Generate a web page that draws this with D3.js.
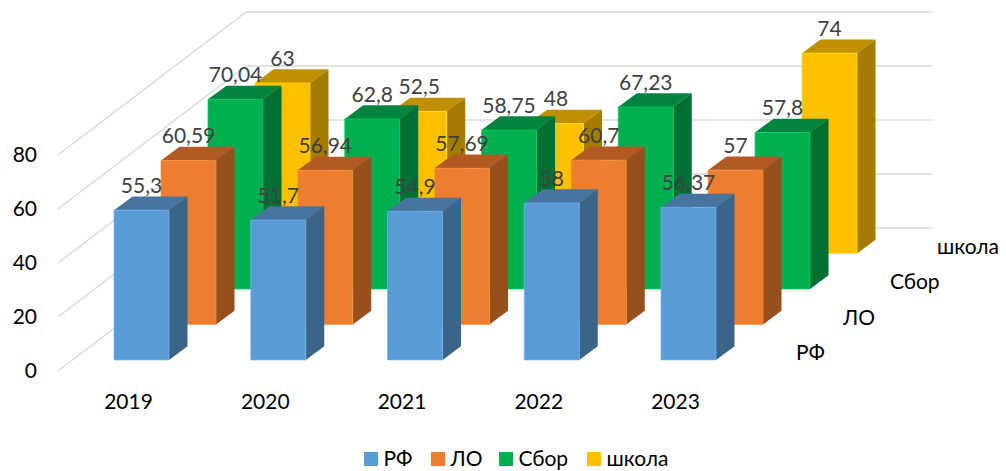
<!DOCTYPE html>
<html><head><meta charset="utf-8">
<script src="https://cdn.jsdelivr.net/npm/d3@7"></script>
<style>html,body{margin:0;padding:0;background:#fff}svg{display:block}text{font-family:Lato,"Open Sans",sans-serif}</style>
</head><body><svg id="c" width="1006" height="471"></svg>
<script>
const years = ["2019","2020","2021","2022","2023"];
const seriesNames = ["РФ","ЛО","Сбор","школа"];
const rf = [55.3,51.7,54.9,58,56.37];
const lo = [60.59,56.94,57.69,60.7,57];
const sbor = [70.04,62.8,58.75,67.23,57.8];
const shkola = [63,52.5,48,null,74];
const yTicks = [0,20,40,60,80];
const faceColors = ["#5B9BD5","#ED7D31","#00B050","#FFC000"];
const topColors = ["#4675A0","#B25A24","#008440","#C09000"];
const sideColors = ["#3A6488","#964F1D","#006F33","#A67C00"];

const svg = d3.select("#c");
const values = [rf,lo,sbor,shkola];
const barW = 55, depthDX = 18.5, depthDY = 13.7;
const x = d3.scalePoint(years,[114,661]);
const serX = d3.scalePoint(seriesNames,[0,141]);
const serY = d3.scalePoint(seriesNames,[360,253.5]);
const h = d3.scaleLinear([0,80],[0,216.6]);
const yFront = d3.scaleLinear([0,80],[371,155]);
const wallDX = 188, wallDY = 143, wallEnd = 932;

// gridlines
const grid = svg.append("g").attr("fill","none").attr("stroke","#d9d9d9").attr("stroke-width",1.4);
grid.selectAll("path").data(yTicks).join("path")
  .attr("d",t=>d3.line()([[58,yFront(t)],[58+wallDX,yFront(t)-wallDY],[wallEnd,yFront(t)-wallDY]]));

// y axis
const yAxis = svg.append("g").attr("transform","translate(37,0)")
  .call(d3.axisLeft(yFront).tickValues(yTicks).tickSize(0).tickPadding(0).tickFormat(d3.format("d")));
yAxis.select(".domain").remove();
yAxis.selectAll("text").attr("font-size",21).attr("fill","#000").style("font-family","Lato");

// bars, back series first
const bars = [];
seriesNames.forEach((s,si)=>years.forEach((yr,yi)=>{
  const v = values[si][yi];
  if(v!=null) bars.push({s,si,yr,v});
}));
bars.sort((a,b)=>b.si-a.si);
const poly = pts=>d3.line()(pts)+"Z";
const bg = svg.append("g").selectAll("g").data(bars).join("g");
bg.each(function(d){
  const g = d3.select(this);
  const x0 = x(d.yr)+serX(d.s), yb = serY(d.s), yt = yb-h(d.v), x1 = x0+barW;
  g.append("path").attr("fill",topColors[d.si])
    .attr("d",poly([[x0,yt],[x1,yt],[x1+depthDX,yt-depthDY],[x0+depthDX,yt-depthDY]]));
  g.append("path").attr("fill",sideColors[d.si])
    .attr("d",poly([[x1,yt],[x1+depthDX,yt-depthDY],[x1+depthDX,yb-depthDY],[x1,yb]]));
  g.append("path").attr("fill",faceColors[d.si])
    .attr("stroke",d3.color(faceColors[d.si]).brighter(0.5)).attr("stroke-width",0.7)
    .attr("d",poly([[x0,yt],[x1,yt],[x1,yb],[x0,yb]]));
});

// data labels
svg.append("g").selectAll("text").data(bars).join("text")
  .attr("x",d=>x(d.yr)+serX(d.s)+barW/2)
  .attr("y",d=>serY(d.s)-h(d.v)-17.3)
  .attr("text-anchor","middle").attr("font-size",21).attr("fill","#404040")
  .text(d=>String(d.v).replace(".",","));

// category axis
const xAxis = svg.append("g").attr("transform","translate(14,0)")
  .call(d3.axisBottom(x).tickSize(0).tickPadding(0));
xAxis.select(".domain").remove();
xAxis.selectAll("text").attr("y",408.5).attr("dy",null).attr("font-size",21).attr("fill","#000")
  .style("font-family","Lato").attr("text-anchor","middle");

// depth axis labels
svg.append("g").selectAll("text").data(seriesNames).join("text")
  .attr("x",d=>796+serX(d))
  .attr("y",d=>serY(d))
  .attr("font-size",21).attr("fill","#000").text(d=>d);

// legend
const legX = [364,431,499,587];
const leg = svg.append("g").selectAll("g").data(seriesNames).join("g")
  .attr("transform",(d,i)=>`translate(${legX[i]},452)`);
leg.append("rect").attr("width",14).attr("height",14).attr("fill",(d,i)=>faceColors[i]);
leg.append("text").attr("x",19.5).attr("y",14).attr("font-size",21).attr("fill","#000").text(d=>d);
</script></body></html>
